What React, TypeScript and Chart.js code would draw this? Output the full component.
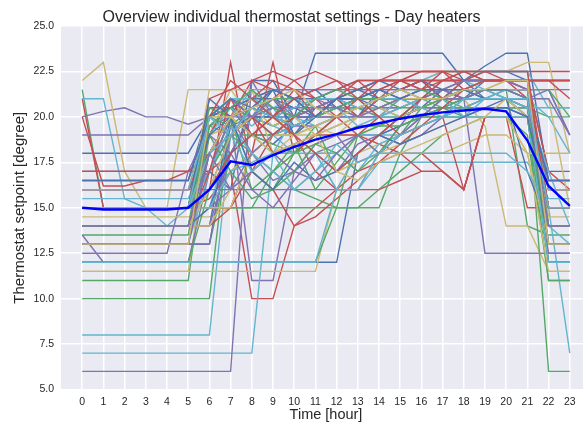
import React, { useEffect, useRef } from "react";
import { Chart, registerables } from "chart.js";

Chart.register(...registerables);

const hours = [0, 1, 2, 3, 4, 5, 6, 7, 8, 9, 10, 11, 12, 13, 14, 15, 16, 17, 18, 19, 20, 21, 22, 23];
const yTickValues = [5, 7.5, 10, 12.5, 15, 17.5, 20, 22.5, 25];

const chartTitle = "Overview individual thermostat settings - Day heaters";
const xAxisTitle = "Time [hour]";
const yAxisTitle = "Thermostat setpoint [degree]";

const meanSetpoint = [15.0, 14.9, 14.9, 14.9, 14.9, 15.0, 16.0, 17.55, 17.35, 17.9, 18.35, 18.75, 19.05, 19.4, 19.65, 19.9, 20.1, 20.25, 20.35, 20.45, 20.3, 18.7, 16.2, 15.1];

const t00 = [18, 18, 18, 18, 18, 18, 20, 20.5, 20, 19.5, 20, 23.5, 23.5, 23.5, 23.5, 23.5, 23.5, 23.5, 22, 22.8, 23.5, 23.5, 16.5, 16.5];
const t01 = [21.5, 15, 15, 15, 15, 15, 19.5, 20.5, 20, 19, 19.5, 20, 20, 20.5, 20.5, 20, 20.5, 21, 21, 21, 21, 20.5, 20, 20];
const t02 = [21, 15, 15, 15, 15, 15, 16, 23, 17, 19, 20, 20.5, 21, 21.5, 22, 22.5, 22.5, 22.5, 22.5, 22.5, 22.5, 22.5, 22.5, 22.5];
const t03 = [20, 20.3, 20.5, 20, 20, 19.6, 20, 20.5, 21, 21.5, 21.5, 21.5, 21.5, 21.5, 21.5, 21.5, 21.5, 21.5, 21.5, 21.5, 21.5, 21.5, 21.5, 21.5];
const t04 = [22, 23, 17, 15, 15, 21.5, 21.5, 21.5, 20, 19, 20, 21, 21, 21.5, 22, 22, 22, 22.5, 22.5, 22.5, 22.5, 23, 23, 18];
const t05 = [21, 21, 15.5, 15, 14, 15, 20, 21, 20, 19, 18, 19, 20, 20.5, 21, 21.5, 22, 22.5, 22.5, 22.5, 22.5, 22.5, 20.5, 20.5];

const t06 = [17, 17, 17, 17, 17, 17, 17, 16, 22, 22, 20, 21, 21.5, 22, 22, 21.5, 22, 21, 22, 22.5, 22.5, 22, 17, 17];
const t07 = [13.5, 13.5, 13.5, 13.5, 13.5, 13.5, 20, 20.5, 20, 19.5, 20, 20, 20.5, 20, 21, 21, 21, 21, 21.5, 21.5, 21.5, 14, 13.5, 13.5];
const t08 = [20, 16.2, 16.2, 16.5, 16.5, 17, 17, 18, 20, 21, 22, 22.5, 22, 21.5, 22, 22, 22.5, 22.5, 22, 22, 22, 22, 17, 16];
const t09 = [19, 19, 19, 19, 19, 19, 20, 20.5, 21, 20.5, 20, 20, 20.5, 20.5, 21, 21, 21, 21, 21, 21, 21, 21, 21.5, 19];
const t10 = [16.5, 16.5, 16.5, 16.5, 16.5, 16.5, 19, 19.5, 18, 17, 18, 18.5, 19, 19, 19.5, 20, 20, 20, 20, 20, 20, 20, 16.5, 16.5];
const t11 = [15.5, 15.5, 15.5, 15.5, 15.5, 15.5, 18, 20, 21, 20.5, 19, 18, 16, 16, 17.5, 17.5, 17.5, 17.5, 17.5, 17.5, 17.5, 17.5, 15.5, 15.5];

const t12 = [16.5, 16.5, 16.5, 16.5, 16.5, 16.5, 20.5, 20.5, 19, 18.5, 19.5, 20, 21, 21.5, 22, 22, 22, 21, 20, 20.5, 21, 21, 16.5, 16.5];
const t13 = [11, 11, 11, 11, 11, 11, 19.5, 19, 18, 17, 16, 15.5, 15, 15, 16, 17, 18, 19, 19.5, 20, 20, 19, 11, 11];
const t14 = [15, 15, 15, 15, 15, 15, 15.5, 17, 10, 10, 14, 15, 16, 17, 17.5, 18, 17, 17, 16, 20, 20, 15, 15, 15];
const t15 = [12.5, 12.5, 12.5, 12.5, 12.5, 17, 19.5, 20, 11, 11, 17, 18, 18.5, 19, 19, 19.5, 20, 20, 20, 20, 20, 20, 12.5, 12.5];
const t16 = [11.5, 11.5, 11.5, 11.5, 11.5, 11.5, 19, 19.5, 20, 20, 19, 18, 18, 19, 19.5, 20, 20.5, 21, 21, 19.5, 14, 14, 11.5, 11.5];
const t17 = [8, 8, 8, 8, 8, 8, 8, 19, 20, 19.5, 19, 18, 18, 19, 19, 20, 20.5, 21, 21.5, 21.5, 21, 20, 15, 7];

const t18 = [14, 14, 14, 14, 14, 14, 16, 18, 19, 19, 19.5, 20, 20, 20.5, 20.5, 21, 21, 21, 21, 21, 21, 21, 14, 14];
const t19 = [10, 10, 10, 10, 10, 10, 10, 20, 19, 18.5, 18, 19, 19.5, 20, 20, 20, 20.5, 20.5, 20, 20, 20, 20, 11, 11];
const t20 = [16, 16, 16, 16, 16, 16, 17, 20, 22, 21.5, 21, 20, 20, 19, 18.5, 18, 18, 17, 16, 20, 20, 20, 16, 16];
const t21 = [13.5, 12, 12, 12, 12, 12, 17, 19, 20, 20, 20.5, 21, 21, 21, 21, 21, 21, 21, 21, 12.5, 12.5, 12.5, 12.5, 12.5];
const t22 = [14.5, 14.5, 14.5, 14.5, 14.5, 14.5, 14.5, 15, 18, 19, 20, 20, 20, 20.5, 20.5, 21, 21, 21.5, 21.5, 21.5, 21.5, 21.5, 14.5, 14.5];
const t23 = [7, 7, 7, 7, 7, 7, 7, 7, 7, 18, 20, 20, 20, 20.5, 20.5, 20.5, 21, 21, 21, 21, 21, 21, 20, 18];

const t24 = [15, 15, 15, 15, 15, 15, 20, 20.5, 21, 21.5, 21, 21, 21, 20.5, 20, 20, 20, 20.5, 21, 22, 22, 22, 22, 22];
const t25 = [13, 13, 13, 13, 13, 13, 13, 18, 19, 19, 19, 19.5, 20, 20, 20, 20, 20, 20, 20, 20, 20, 20, 13, 13];
const t26 = [15, 15, 15, 15, 15, 15, 15, 17, 18, 19, 20, 20, 20.5, 21, 21.5, 22, 22, 22, 22, 22, 22, 22, 22, 21];
const t27 = [6, 6, 6, 6, 6, 6, 6, 6, 22, 20, 20, 20, 20, 20, 20, 20, 20.5, 20.5, 20.5, 20.5, 20.5, 20.5, 13, 13];
const t28 = [15, 15, 15, 15, 15, 15, 21.5, 21.5, 21.5, 20, 19, 19, 19.5, 20, 20, 20, 20, 20, 20.5, 21, 21, 21, 21, 15];
const t29 = [14, 14, 14, 14, 14, 14, 15, 19, 20, 19, 20, 20.5, 21, 21, 21, 21, 21.5, 21.5, 21.5, 21.5, 21.5, 21.5, 14, 14];

const t30 = [12, 12, 12, 12, 12, 12, 12, 12, 12, 12, 12, 12, 12, 18, 19, 19.5, 20, 20, 20, 20, 20, 20, 12, 12];
const t31 = [12, 12, 12, 12, 12, 12, 16, 19, 20, 20, 20, 20.5, 20.5, 20.5, 20, 20, 20, 20, 21, 21, 21, 21, 6, 6];
const t32 = [17, 17, 17, 17, 17, 17, 17, 20, 21, 20, 19, 17, 16, 16, 16, 16.5, 17, 17, 16, 20, 20, 20, 15, 15];
const t33 = [16, 16, 16, 16, 16, 16, 18, 20, 20.5, 20, 19.5, 19.5, 20, 20, 20.5, 20.5, 21, 21, 21.5, 21.5, 21.5, 21.5, 21.5, 19];
const t34 = [15, 15, 15, 15, 15, 15, 19, 21.5, 21.5, 18, 17, 16.5, 17, 17.5, 18, 18, 18, 18, 18.5, 19, 19, 18, 18, 18];
const t35 = [13, 13, 13, 13, 13, 13, 17, 19, 20, 19, 19.5, 20, 20, 20, 20, 20.5, 21, 21, 22, 22.5, 22.5, 22.5, 14, 13];

const t36 = [13, 13, 13, 13, 13, 13, 13, 19.5, 20, 20, 20, 20, 20.5, 21, 21, 21, 21, 21, 21, 21, 21, 21, 12, 12];
const t37 = [15, 15, 15, 15, 15, 15, 15, 15, 15, 15, 15, 15, 15, 15, 15, 18, 20, 21, 21.5, 21.5, 21.5, 21.5, 21.5, 20];
const t38 = [15, 15, 15, 15, 15, 15, 21, 21.5, 22, 22.5, 22, 21, 20, 21, 21.5, 22, 22.5, 22.5, 22.5, 22.5, 22.5, 22.5, 15, 15];
const t39 = [15, 15, 15, 15, 15, 15, 15, 16, 16, 16, 16, 16, 16, 16, 18, 19, 20, 20.5, 20.5, 20.5, 20.5, 20, 15, 15];
const t40 = [11.5, 11.5, 11.5, 11.5, 11.5, 11.5, 11.5, 11.5, 11.5, 11.5, 11.5, 11.5, 16, 18, 18.5, 19, 19.5, 20, 20, 20, 20, 18, 11.5, 11.5];
const t41 = [15, 15, 15, 15, 15, 15, 20, 21, 21, 20, 20, 19.5, 20, 20, 20.5, 21, 21, 21, 21, 21, 21, 20.5, 20.5, 20.5];

const t42 = [14, 14, 14, 14, 14, 14, 14, 20, 21, 21, 20.5, 20, 20, 20, 20, 20, 20.5, 21, 21, 21, 21, 17, 14, 14];
const t43 = [15, 15, 15, 15, 15, 15, 15, 15, 15, 17, 18, 19, 20, 20, 20, 20, 21, 21, 21, 21, 21, 21, 15, 15];
const t44 = [15, 15, 15, 15, 15, 15, 15, 15, 18, 23, 18, 19, 19, 19, 20, 21, 21, 22, 22, 22, 22, 22, 22, 22];
const t45 = [13, 13, 13, 13, 13, 13, 13, 19, 20.5, 21.5, 21.5, 21.5, 21.5, 21.5, 21.5, 21.5, 22, 22, 22, 22, 22, 22, 22, 22];
const t46 = [15, 15, 15, 15, 15, 15, 15, 17, 18, 19, 19, 19.5, 20, 20, 20, 20, 20, 20, 20, 20, 20, 18, 13, 13];
const t47 = [15, 15, 15, 15, 15, 15, 17, 20, 21.5, 21.5, 21, 20.5, 20, 20, 20, 20, 20, 20, 20.5, 20.5, 20.5, 20.5, 17, 14];

const t48 = [14, 14, 14, 14, 14, 14, 15, 18, 20, 20, 20.5, 21, 21, 21, 21, 21, 21, 21, 21, 21, 21, 20, 14, 14];
const t49 = [15, 15, 15, 15, 15, 15, 17, 19, 19, 18, 18, 18.5, 19, 19.5, 19.5, 19.5, 20, 20, 20, 20, 20, 20, 15, 15];
const t50 = [14, 14, 14, 14, 14, 14, 14, 15, 17, 16, 14, 14.5, 15.5, 16.5, 17.5, 18.5, 19.5, 20, 16, 20, 20, 20, 15, 15];
const t51 = [14, 14, 14, 14, 14, 14, 14, 18, 20, 20.5, 20.5, 20.5, 20.5, 21, 21, 21, 21, 21, 21, 21, 21, 21, 14, 14];
const t52 = [15, 15, 15, 15, 15, 15, 15, 15, 18, 19, 19, 20, 20, 21, 21, 21, 21.5, 21.5, 21.5, 21.5, 21.5, 21.5, 15, 15];
const t53 = [15, 15, 15, 15, 15, 15, 15, 17, 17.5, 18, 18, 18, 16, 16, 18, 18, 18, 18, 18, 18, 18, 17, 15, 15];

const t54 = [16, 16, 16, 16, 16, 16, 18, 20, 21, 20, 19, 20, 21, 21, 21, 21, 21.5, 21.5, 21, 21, 21, 21, 16, 16];
const t55 = [12, 12, 12, 12, 12, 12, 12, 12, 12, 12, 12, 12, 15, 19, 19.5, 20, 20, 20.5, 20.5, 20.5, 20.5, 20.5, 12, 12];
const t56 = [17, 17, 17, 17, 17, 17, 18, 20, 21, 22, 21.5, 21, 21.5, 22, 22, 22, 22, 22, 22, 22, 22, 22, 22, 22];
const t57 = [16, 16, 16, 16, 16, 16, 16, 16, 18, 19, 20, 20, 20, 20, 20, 20.5, 21, 21, 21, 21, 21, 21, 21, 19];
const t58 = [14, 14, 14, 14, 14, 14, 14, 16, 17, 18, 19, 18, 17, 17.5, 18, 18.5, 19, 19.5, 20, 20, 20, 20, 14, 14];
const t59 = [12, 12, 12, 12, 12, 12, 12, 12, 12, 12, 12, 12, 16, 18, 19, 19, 19.5, 20, 20, 20, 20, 20, 12, 12];

const t60 = [15, 15, 15, 15, 15, 15, 19, 21, 20, 21.5, 19, 20.5, 21, 20, 21.5, 21, 20.5, 21.5, 22, 21, 21.5, 21, 15, 15];
const t61 = [14, 14, 14, 14, 14, 14, 18, 20, 17, 16, 18, 19.5, 17, 18, 19, 20, 21, 20.5, 21, 21.5, 21, 20, 14, 14];
const t62 = [16, 16, 16, 16, 16, 16, 19, 21, 19, 20, 21.5, 20, 21, 22, 21, 22, 21.5, 22.5, 21.5, 22, 22, 21, 16, 16];
const t63 = [15, 15, 15, 15, 15, 15, 17, 20, 18, 16.5, 17, 18.5, 19, 17.5, 18, 19.5, 21, 21, 21.5, 21, 21, 21, 15, 15];
const t64 = [15, 15, 15, 15, 15, 15, 20, 21, 20.5, 19.5, 20, 19, 20, 20.5, 21, 20.5, 21, 21.5, 21, 21.5, 22, 22, 15, 15];
const t65 = [14, 14, 14, 14, 14, 14, 19, 20.5, 19.5, 20.5, 21, 20, 20.5, 21, 20, 21, 21.5, 21, 22, 21.5, 21, 21, 14, 14];

const t66 = [13, 13, 13, 13, 13, 13, 18, 19, 20, 21, 19.5, 20, 21, 21.5, 21, 21.5, 22, 21.5, 21, 21.5, 21.5, 21, 13, 13];
const t67 = [15, 15, 15, 15, 15, 15, 20.5, 20, 16, 17, 18.5, 16, 17.5, 19, 18, 19, 20.5, 21, 20.5, 21, 21, 20.5, 15, 15];
const t68 = [15, 15, 15, 15, 15, 15, 18, 19, 20, 19, 20, 20.5, 21, 20, 21, 21.5, 22, 21, 22, 22.5, 22, 22, 15, 15];
const t69 = [14, 14, 14, 14, 14, 14, 19, 18, 16, 15, 16.5, 18, 17, 18.5, 19, 18.5, 19, 20, 20.5, 21, 21, 20.5, 14, 14];
const t70 = [16, 16, 16, 16, 16, 16, 20, 20, 21, 20, 19, 19.5, 19, 20, 20.5, 20, 20.5, 21, 21, 21, 21, 20, 16, 16];
const t71 = [15, 15, 15, 15, 15, 15, 17, 19.5, 18, 17, 16, 17, 18, 17, 18.5, 19, 19.5, 20, 21, 21.5, 21.5, 21, 15, 15];

const t72 = [15, 15, 15, 15, 15, 15, 21, 20, 20.5, 20, 21, 21.5, 20.5, 21, 20.5, 21, 21, 21.5, 21.5, 22, 22, 21.5, 15, 15];
const t73 = [13, 13, 13, 13, 13, 13, 19, 17, 15.5, 16, 17, 18.5, 18, 17, 18, 19.5, 20, 20.5, 21, 21, 21, 21, 13, 13];
const t74 = [14, 14, 14, 14, 14, 14, 17, 21, 20, 18, 18.5, 19, 20, 21, 22, 22, 21.5, 22, 22.5, 22, 22, 22, 14, 14];
const t75 = [15, 15, 15, 15, 15, 15, 20, 21, 20, 20.5, 20, 20.5, 21, 21, 21, 21.5, 21, 21.5, 21, 21.5, 21.5, 21.5, 15, 15];
const t76 = [14, 14, 14, 14, 14, 14, 16, 19, 20, 21, 20, 19, 19.5, 20, 20.5, 21, 21, 21, 21.5, 22, 22, 22, 14, 14];
const t77 = [16, 16, 16, 16, 16, 16, 20, 21, 21, 20, 19.5, 20, 20.5, 19.5, 20, 20.5, 21, 21, 20, 21, 21, 20.5, 16, 16];

const t78 = [15, 15, 15, 15, 15, 15, 19, 20, 17, 16, 17.5, 16.5, 17, 18, 19, 18.5, 19, 19.5, 20, 20.5, 20.5, 20, 15, 15];
const t79 = [14, 14, 14, 14, 14, 14, 20, 19.5, 20.5, 21, 21, 20, 20.5, 21, 21, 20.5, 20.5, 21, 21, 21.5, 21.5, 21, 14, 14];
const t80 = [15, 15, 15, 15, 15, 15, 20, 22, 21, 20, 19, 18, 17, 18, 19, 20, 21, 22, 22.5, 22, 22, 21.5, 15, 15];
const t81 = [13, 13, 13, 13, 13, 13, 18, 20, 20, 21, 20, 21, 20.5, 20, 20.5, 21, 21.5, 21.5, 22, 22, 22, 21.5, 13, 13];
const t82 = [15, 15, 15, 15, 15, 15, 18, 20, 19, 18, 18.5, 19, 17, 16.5, 17.5, 18, 18.5, 19, 19.5, 20, 21, 21, 15, 15];
const t83 = [15, 15, 15, 15, 15, 15, 18, 19, 20.5, 20, 20.5, 21, 21, 20.5, 21, 21, 20.5, 20, 20.5, 21, 21.5, 21.5, 15, 15];

const t84 = [16.5, 16.5, 16.5, 16.5, 16.5, 16.5, 20, 21, 20.5, 21.5, 21, 20, 21, 21, 21.5, 21, 21.5, 21.5, 21.5, 21, 21, 21, 16.5, 16.5];
const t85 = [15, 15, 15, 15, 15, 15, 19.5, 20.5, 21.5, 20.5, 20, 21, 21.5, 21, 21, 21.5, 21.5, 21, 21.5, 21.5, 21.5, 21, 15, 15];
const t86 = [15, 15, 15, 15, 15, 15, 16, 18, 19, 20, 21, 21.5, 22, 21, 20, 19, 19.5, 20.5, 21.5, 22, 22, 22, 15, 15];
const t87 = [14, 14, 14, 14, 14, 14, 18, 16, 17, 18, 17, 16.5, 18, 19, 18, 19, 20, 21, 21, 21.5, 21.5, 21, 14, 14];
const t88 = [13, 13, 13, 13, 13, 13, 20, 20, 20.5, 21, 21.5, 20.5, 20, 20.5, 21, 21.5, 21, 21, 21.5, 21.5, 22, 22, 13, 13];
const t89 = [15, 15, 15, 15, 15, 15, 20, 19, 17, 18, 16, 17, 18.5, 17.5, 18, 19, 19.5, 20, 21, 21, 21, 21, 15, 15];

const individualSettings = [
  t00, t01, t02, t03, t04, t05, t06, t07, t08, t09, t10, t11,
  t12, t13, t14, t15, t16, t17, t18, t19, t20, t21, t22, t23,
  t24, t25, t26, t27, t28, t29, t30, t31, t32, t33, t34, t35,
  t36, t37, t38, t39, t40, t41, t42, t43, t44, t45, t46, t47,
  t48, t49, t50, t51, t52, t53, t54, t55, t56, t57, t58, t59,
  t60, t61, t62, t63, t64, t65, t66, t67, t68, t69, t70, t71,
  t72, t73, t74, t75, t76, t77, t78, t79, t80, t81, t82, t83,
  t84, t85, t86, t87, t88, t89,
];

const palette = ["#4C72B0", "#55A868", "#C44E52", "#8172B2", "#CCB974", "#64B5CD"];
const FONT = '"Liberation Sans", Arial, sans-serif';
const TEXT = "#262626";

export default function App() {
  const ref = useRef<HTMLCanvasElement | null>(null);

  useEffect(() => {
    if (!ref.current) return;
    const toPts = (arr: number[]) => hours.map((h, i) => ({ x: h, y: arr[i] }));

    const datasets: any[] = individualSettings.map((s, i) => ({
      label: "t" + i,
      data: toPts(s),
      borderColor: palette[i % palette.length],
      borderWidth: 1.4,
      pointRadius: 0,
      tension: 0,
      fill: false,
      order: 1000 - i,
    }));
    datasets.push({
      label: "mean",
      data: toPts(meanSetpoint),
      borderColor: "#0000FF",
      borderWidth: 2.4,
      pointRadius: 0,
      tension: 0,
      fill: false,
      order: -1,
    });

    const bgPlugin = {
      id: "bg",
      beforeDraw(chart: any) {
        const { ctx, chartArea } = chart;
        ctx.save();
        ctx.fillStyle = "#EAEAF2";
        ctx.fillRect(chartArea.left, chartArea.top, chartArea.right - chartArea.left, chartArea.bottom - chartArea.top);
        ctx.restore();
      },
      afterDraw(chart: any) {
        const { ctx } = chart;
        ctx.save();
        ctx.fillStyle = TEXT;
        ctx.font = "16px " + FONT;
        ctx.textAlign = "center";
        ctx.textBaseline = "alphabetic";
        ctx.fillText(chartTitle, 291.5, 22);
        ctx.restore();
      },
    };

    const chart = new Chart(ref.current, {
      type: "line",
      data: { datasets },
      plugins: [bgPlugin],
      options: {
        animation: false,
        responsive: false,
        devicePixelRatio: 1,
        layout: { padding: { top: 26, left: 0, right: 9, bottom: 0 } },
        plugins: { legend: { display: false }, tooltip: { enabled: false }, title: { display: false } },
        scales: {
          x: {
            type: "linear",
            min: -1,
            max: 24,
            afterBuildTicks: (axis: any) => {
              axis.ticks = hours.map((v) => ({ value: v }));
            },
            afterFit: (s: any) => {
              s.height = 37.5;
            },
            ticks: {
              autoSkip: false,
              maxRotation: 0,
              padding: 6,
              color: TEXT,
              font: { family: FONT, size: 10.5 },
              callback: (v: any) => String(v),
            },
            grid: { color: "#FFFFFF", lineWidth: 1.5, drawTicks: false },
            border: { display: false },
            title: {
              display: true,
              text: xAxisTitle,
              color: TEXT,
              font: { family: FONT, size: 14.5 },
              padding: { top: 0, bottom: 3 },
            },
          },
          y: {
            type: "linear",
            min: 5,
            max: 25,
            afterBuildTicks: (axis: any) => {
              axis.ticks = yTickValues.map((v) => ({ value: v }));
            },
            afterFit: (s: any) => {
              s.width = 61;
            },
            ticks: {
              padding: 7,
              color: TEXT,
              font: { family: FONT, size: 10.5 },
              callback: (v: any) => Number(v).toFixed(1),
            },
            grid: { color: "#FFFFFF", lineWidth: 1.5, drawTicks: false },
            border: { display: false },
            title: {
              display: true,
              text: yAxisTitle,
              color: TEXT,
              font: { family: FONT, size: 15 },
              padding: { top: 11, bottom: 0 },
            },
          },
        },
      },
    });
    return () => chart.destroy();
  }, []);

  return (
    <div style={{ position: "fixed", left: 0, top: 0, width: 583, height: 427, overflow: "hidden", background: "#fff" }}>
      <canvas ref={ref} width={600} height={427} style={{ width: 600, height: 427, display: "block" }} />
    </div>
  );
}
